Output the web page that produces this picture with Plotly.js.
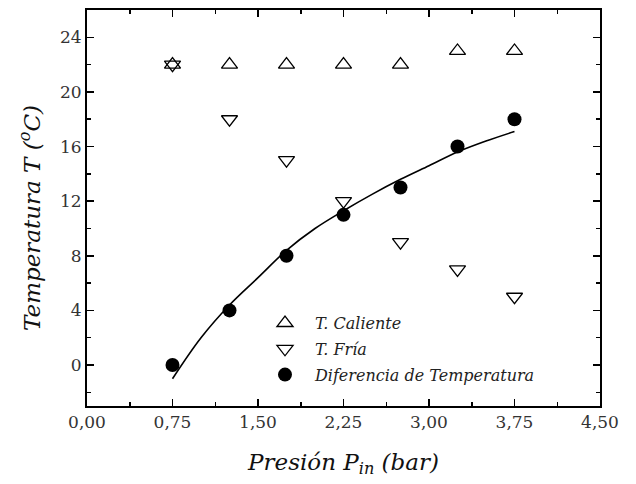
<!DOCTYPE html>
<html>
<head>
<meta charset="utf-8">
<script src="https://cdn.plot.ly/plotly-3.0.1.min.js"></script>
<style>html,body{margin:0;padding:0;background:#fff;}#chart{width:636px;height:484px;}</style>
</head>
<body>
<div id="chart"></div>
<script>
const pressure = [0.75, 1.25, 1.75, 2.25, 2.75, 3.25, 3.75];
const tCaliente = [22, 22, 22, 22, 22, 23, 23];
const tFria = [22, 18, 15, 12, 9, 7, 5];
const diferencia = [0, 4, 8, 11, 13, 16, 18];
const fitX = [0.75, 1.0, 1.25, 1.5, 1.75, 2.0, 2.25, 2.5, 2.75, 3.0, 3.25, 3.5, 3.75];
const fitY = [-1.0, 2.0, 4.4, 6.4, 8.4, 10.0, 11.3, 12.5, 13.6, 14.6, 15.6, 16.4, 17.1];
const xTickVals = [0, 0.75, 1.5, 2.25, 3.0, 3.75, 4.5];
const yTickVals = [0, 4, 8, 12, 16, 20, 24];
const yTitle = '<i>Temperatura T (<sup>o</sup>C)</i>';
const xTitle = '<i>Presión P<sub>in</sub> (bar)</i>';

const serif = 'DejaVu Serif';

const traces = [
  {x: fitX, y: fitY, mode: 'lines', line: {color: '#000', width: 1.6, shape: 'spline'}, showlegend: false, hoverinfo: 'skip'},
  {x: pressure, y: tCaliente, mode: 'markers', name: '<i>T. Caliente</i>', legendgroup: 'a',
   marker: {symbol: 'triangle-up-open', size: 14, color: '#000', line: {width: 1.3, color: '#000'}}},
  {x: pressure, y: tFria, mode: 'markers', name: '<i>T. Fría</i>', legendgroup: 'b',
   marker: {symbol: 'triangle-down-open', size: 14, color: '#000', line: {width: 1.3, color: '#000'}}},
  {x: pressure, y: diferencia, mode: 'markers', name: '<i>Diferencia de Temperatura</i>', legendgroup: 'c',
   marker: {symbol: 'circle', size: 14, color: '#000'}}
];

const layout = {
  width: 636, height: 484,
  margin: {l: 87, r: 36, t: 10, b: 78},
  paper_bgcolor: '#fff', plot_bgcolor: '#fff',
  separators: ',.',
  font: {family: serif, color: '#222', size: 17},
  showlegend: true,
  legend: {x: (255 - 87) / 513, y: (364.8 - 306) / 13.62 / 29 + 3 / 29, xanchor: 'left', yanchor: 'top',
           bgcolor: 'rgba(0,0,0,0)', borderwidth: 0, itemwidth: 50, tracegroupgap: 2,
           font: {family: serif, size: 16, color: '#222'}},
  xaxis: {
    range: [0, 4.5], tickmode: 'array', tickvals: xTickVals, tickformat: '.2f',
    ticks: 'inside', ticklen: 7, tickwidth: 1.5, tickcolor: '#000',
    showline: true, linecolor: '#000', linewidth: 2, mirror: 'ticks',
    showgrid: false, zeroline: false,
    minor: {dtick: 0.375, tick0: 0, ticks: 'inside', ticklen: 4, tickwidth: 1.5, tickcolor: '#000', showgrid: false},
    tickfont: {family: serif, size: 17, color: '#333'},
    title: {text: xTitle, font: {family: serif, size: 23, color: '#111'}, standoff: 22}
  },
  yaxis: {
    range: [-3, 26], tickmode: 'array', tickvals: yTickVals,
    ticks: 'inside', ticklen: 7, tickwidth: 1.5, tickcolor: '#000',
    showline: true, linecolor: '#000', linewidth: 2, mirror: 'ticks',
    showgrid: false, zeroline: false,
    minor: {dtick: 2, tick0: 0, ticks: 'inside', ticklen: 4, tickwidth: 1.5, tickcolor: '#000', showgrid: false},
    tickfont: {family: serif, size: 17, color: '#333'}
  },
  annotations: [{
    text: yTitle, xref: 'paper', yref: 'paper', x: (30 - 87) / 513, y: (406 - 218) / 396,
    xanchor: 'center', yanchor: 'middle', textangle: -90, showarrow: false,
    font: {family: serif, size: 23, color: '#111'}
  }]
};

Plotly.newPlot('chart', traces, layout, {displayModeBar: false, staticPlot: true});
</script>
</body>
</html>
